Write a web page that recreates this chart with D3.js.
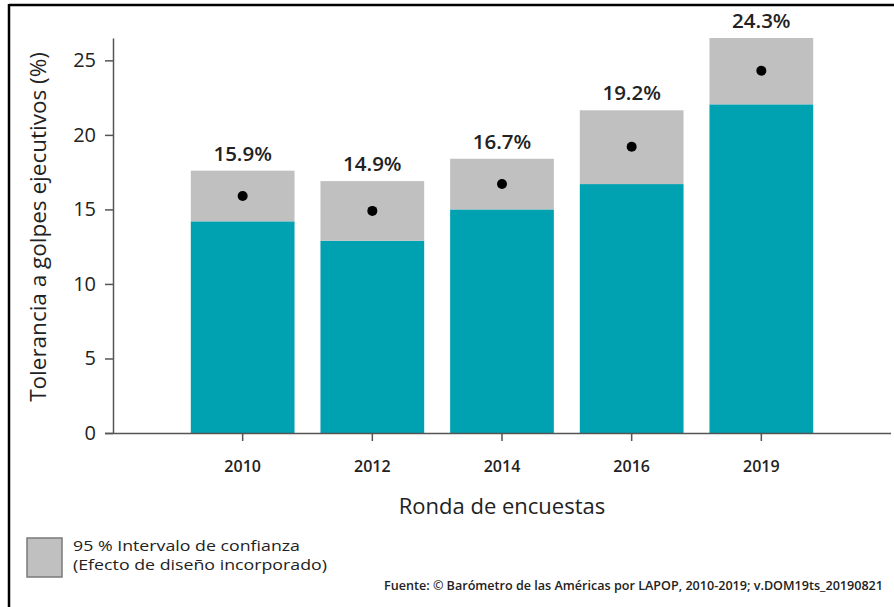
<!DOCTYPE html>
<html>
<head>
<meta charset="utf-8">
<script src="https://cdn.jsdelivr.net/npm/d3@7"></script>
<style>
  body { margin: 0; background: #fff; }
  svg text { font-family: "Open Sans", "Noto Sans", sans-serif; fill: #222; }
</style>
</head>
<body>
<div id="chart"></div>
<script>
// survey rounds and estimates (percent)
const rounds = ['2010', '2012', '2014', '2016', '2019'];
const means = [15.9, 14.9, 16.7, 19.2, 24.3];
const ciLow = [14.2, 12.9, 15.0, 16.7, 22.05];
const ciHigh = [17.6, 16.9, 18.4, 21.65, 26.5];
const yTicks = [0, 5, 10, 15, 20, 25];

const width = 894, height = 607;
const margin = {top: 38, right: 3, bottom: 174, left: 113};

const svg = d3.select('#chart').append('svg')
    .attr('width', width)
    .attr('height', height);

// frame (top and left edges only)
svg.append('line').attr('x1', 9).attr('x2', width).attr('y1', 5).attr('y2', 5)
    .attr('stroke', '#000').attr('stroke-width', 2.5);
svg.append('line').attr('x1', 9).attr('x2', 9).attr('y1', 4).attr('y2', height)
    .attr('stroke', '#000').attr('stroke-width', 2.5);

const innerW = width - margin.left - margin.right;
const innerH = height - margin.top - margin.bottom;

const xScale = d3.scaleBand()
    .domain(rounds)
    .range([0, innerW])
    .paddingInner(0.2)
    .paddingOuter(0.6);

const yScale = d3.scaleLinear()
    .domain([0, 26.5])
    .range([innerH, 0]);

const chart = svg.append('g')
    .attr('transform', `translate(${margin.left},${margin.top})`);

const data = rounds.map((r, i) => ({round: r, mean: means[i], lo: ciLow[i], hi: ciHigh[i]}));

// teal part up to lower CI bound
chart.selectAll('.bar')
    .data(data)
  .join('rect')
    .attr('class', 'bar')
    .attr('x', d => xScale(d.round))
    .attr('y', d => yScale(d.lo))
    .attr('width', xScale.bandwidth())
    .attr('height', d => yScale(0) - yScale(d.lo))
    .attr('fill', '#00a1b0');

// gray confidence interval
chart.selectAll('.ci')
    .data(data)
  .join('rect')
    .attr('class', 'ci')
    .attr('x', d => xScale(d.round))
    .attr('y', d => yScale(d.hi))
    .attr('width', xScale.bandwidth())
    .attr('height', d => yScale(d.lo) - yScale(d.hi))
    .attr('fill', '#c0c0c0');

chart.selectAll('.dot')
    .data(data)
  .join('circle')
    .attr('class', 'dot')
    .attr('cx', d => xScale(d.round) + xScale.bandwidth() / 2)
    .attr('cy', d => yScale(d.mean))
    .attr('r', 5)
    .attr('fill', '#000');

chart.selectAll('.val')
    .data(data)
  .join('text')
    .attr('class', 'val')
    .attr('x', d => xScale(d.round) + xScale.bandwidth() / 2)
    .attr('y', d => yScale(d.hi) - 10)
    .attr('text-anchor', 'middle')
    .style('font-size', '20.5px')
    .style('font-weight', 600)
    .text(d => d.mean.toFixed(1) + '%');

// axes
const yAxis = d3.axisLeft(yScale).tickValues(yTicks).tickSize(8).tickSizeOuter(0).tickPadding(9);
const xAxis = d3.axisBottom(xScale).tickSize(8).tickSizeOuter(0).tickPadding(20);

const yAxisG = chart.append('g').call(yAxis);
yAxisG.select('.domain').attr('stroke', '#555').attr('stroke-width', 1.5);
yAxisG.selectAll('.tick line').attr('stroke', '#555').attr('stroke-width', 1.5);
yAxisG.selectAll('.tick text').style('font-size', '20px').style('fill', '#222');

const xAxisG = chart.append('g')
    .attr('transform', `translate(0,${innerH})`)
    .call(xAxis);
xAxisG.select('.domain').attr('stroke', '#555').attr('stroke-width', 1.5)
    .attr('d', `M-8,0.5H${innerW}`);
xAxisG.selectAll('.tick line').attr('stroke', '#555').attr('stroke-width', 1.5);
xAxisG.selectAll('.tick text').style('font-size', '16px').style('font-weight', 600).style('fill', '#222');

// axis titles
svg.append('text')
    .attr('transform', 'rotate(-90)')
    .attr('x', -227)
    .attr('y', 46)
    .attr('text-anchor', 'middle')
    .style('font-size', '22.5px')
    .text('Tolerancia a golpes ejecutivos (%)');

svg.append('text')
    .attr('x', margin.left + innerW / 2)
    .attr('y', 514)
    .attr('text-anchor', 'middle')
    .style('font-size', '22px')
    .text('Ronda de encuestas');

// legend
svg.append('rect')
    .attr('x', 27).attr('y', 538)
    .attr('width', 35).attr('height', 39)
    .attr('fill', '#c0c0c0')
    .attr('stroke', '#7a7a7a')
    .attr('stroke-width', 1.5);

svg.append('text')
    .attr('x', 73).attr('y', 551)
    .attr('textLength', 227)
    .attr('lengthAdjust', 'spacingAndGlyphs')
    .style('font-size', '14px')
    .style('font-weight', 500)
    .text('95 % Intervalo de confianza');
svg.append('text')
    .attr('x', 73).attr('y', 570)
    .attr('textLength', 254)
    .attr('lengthAdjust', 'spacingAndGlyphs')
    .style('font-size', '14px')
    .style('font-weight', 500)
    .text('(Efecto de diseño incorporado)');

svg.append('text')
    .attr('x', 883).attr('y', 590)
    .attr('text-anchor', 'end')
    .attr('textLength', 499)
    .attr('lengthAdjust', 'spacingAndGlyphs')
    .style('font-size', '12px')
    .style('font-weight', 600)
    .text('Fuente: © Barómetro de las Américas por LAPOP, 2010-2019; v.DOM19ts_20190821');
</script>
</body>
</html>
